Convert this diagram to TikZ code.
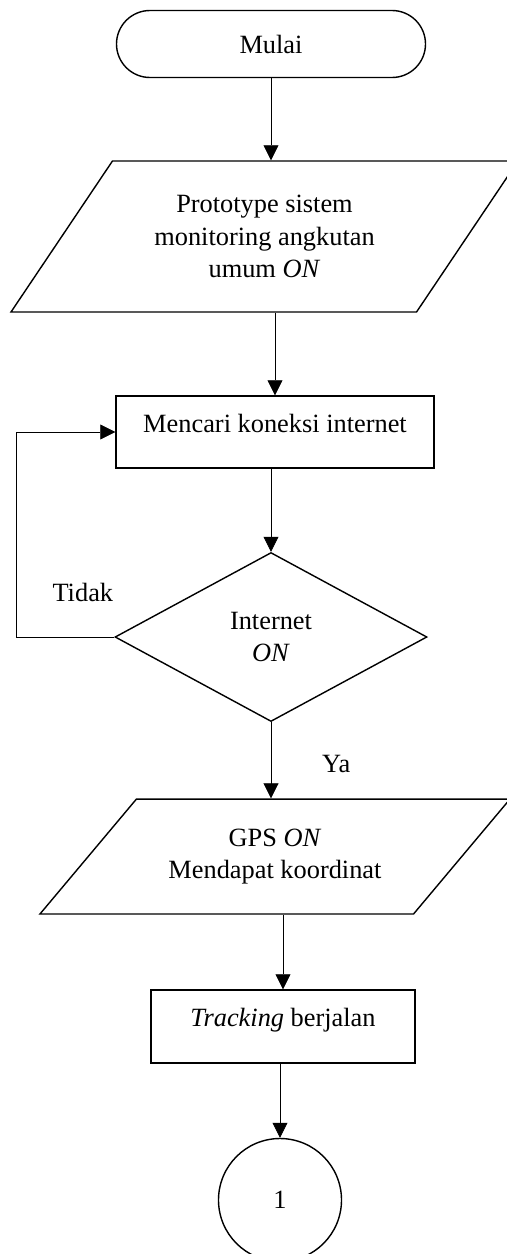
\documentclass[tikz,border=0pt]{standalone}
\usepackage{fontspec}
\setmainfont{Liberation Serif}
\usetikzlibrary{shapes,arrows.meta,positioning}

\begin{document}
\begin{tikzpicture}[node distance=3.5cm, auto, >={Triangle[length=0.3cm,width=0.3cm]}, font=\fontsize{15}{18.7}\selectfont]
    % Define styles
    \tikzstyle{startend} = [rectangle, rounded corners=0.67cm, minimum width=6.18cm, minimum height=1.34cm, text centered, draw=black, line width=0.8pt]
    \tikzstyle{data} = [trapezium, trapezium stretches body, align=center, draw=black, line width=0.8pt]
    \tikzstyle{process} = [rectangle, text height=0.3cm, text depth=0.3cm, text centered, draw=black, line width=0.8pt]
    \tikzstyle{decision} = [diamond, minimum width=6.24cm, minimum height=3.38cm, align=center, inner sep=0pt, draw=black, line width=0.8pt]
    \tikzstyle{connector} = [circle, minimum size=2.46cm, draw=black, line width=0.8pt]

    \useasboundingbox (0,0) rectangle (10.14,-25.08);

    % Nodes
    \node[startend] (start) at (5.42,-0.88) {Mulai};
    \node[data, below of=start, yshift=-0.35cm, xshift=-0.13cm, trapezium left angle=56, trapezium right angle=124, inner ysep=0.67cm, minimum width=10.14cm, minimum height=3.02cm] (system_on) {Prototype sistem\\monitoring angkutan\\umum \textit{ON}};
    \node[process, below of=system_on, yshift=-0.41cm, xshift=0.21cm, minimum width=6.36cm, minimum height=1.44cm] (find_net) {Mencari koneksi internet};
    \node[decision, below of=find_net, yshift=-0.6cm, xshift=-0.08cm] (net_on) {Internet\\\textit{ON}};
    \coordinate[left of=net_on, xshift=-1.6cm] (retry);
    \node[data, below of=net_on, yshift=-0.89cm, xshift=0.08cm, trapezium left angle=50, trapezium right angle=130, inner ysep=0.59cm, minimum width=9.4cm, minimum height=2.26cm] (gps_on) {GPS \textit{ON}\\Mendapat koordinat};
    \node[process, below of=gps_on, yshift=0.1cm, xshift=0.16cm, minimum width=5.28cm, minimum height=1.46cm] (tracking) {\textit{Tracking} berjalan};
    \node[connector, below of=tracking, yshift=0.03cm, xshift=-0.06cm] (next_page) {1};

    % Connections
    \draw[->] (start.south) -- (start.south |- system_on.north);
    \draw[->] (system_on.south -| find_net.north) -- (find_net.north);
    \draw[->] (find_net.south -| net_on.north) -- (net_on.north);
    \draw[->] (net_on.west) -- node[pos=0.32, above, yshift=0.58cm] {Tidak} (retry) |- (find_net.west);
    \draw[->] (net_on.south) -- node[pos=0.55, right, xshift=0.9cm] {Ya} (net_on.south |- gps_on.north);
    \draw[->] (gps_on.south -| tracking.north) -- (tracking.north);
    \draw[->] (tracking.south -| next_page.north) -- (next_page.north);
\end{tikzpicture}
\end{document}
